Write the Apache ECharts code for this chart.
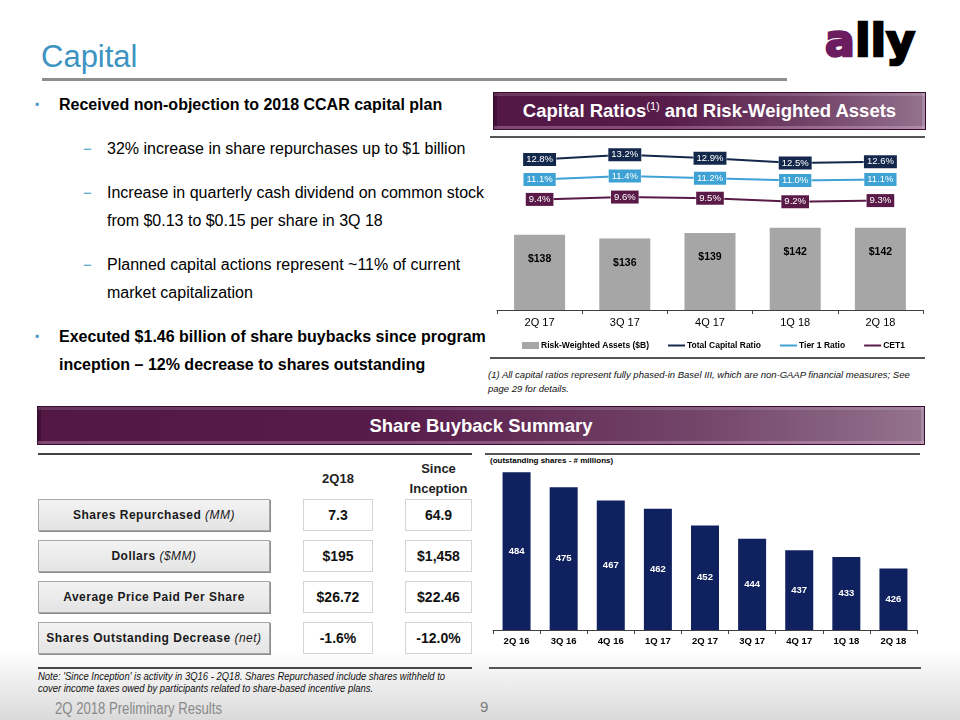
<!DOCTYPE html>
<html>
<head>
<meta charset="utf-8">
<script src="https://cdn.jsdelivr.net/npm/echarts@6/dist/echarts.min.js"></script>
<style>
html,body{margin:0;padding:0;background:#fff;}
#page{position:relative;width:960px;height:720px;overflow:hidden;font-family:"Liberation Sans",Arial,sans-serif;background:#fff;color:#000;}
.abs{position:absolute;white-space:nowrap;}
.rule{position:absolute;height:0;}
.banner{position:absolute;color:#fff;font-weight:bold;font-size:18.5px;text-align:center;box-sizing:border-box;
  background:linear-gradient(to right,#521744 0%,#581c4b 40%,#74466a 75%,#94728e 100%);
  border:1px solid #3a0c30;
  box-shadow:inset 0 3px 0 rgba(255,255,255,0.14), inset 0 -3px 0 rgba(255,200,240,0.28), inset 3px 0 0 rgba(0,0,0,0.22), inset -3px 0 0 rgba(255,255,255,0.18);}
.bul{position:absolute;color:#4b9bc8;font-size:12px;line-height:20px;}
.dash{position:absolute;color:#4b9bc8;font-size:15px;line-height:20px;}
.bold16{position:absolute;white-space:nowrap;font-size:16px;font-weight:bold;line-height:20px;}
.reg16{position:absolute;white-space:nowrap;font-size:16px;line-height:20px;}
.lbox{position:absolute;box-sizing:border-box;border:1px solid #a8a8a8;background:linear-gradient(#f3f3f3,#e4e4e4);
  box-shadow:1px 1px 0 #8a8a8a;text-align:center;font-weight:bold;font-size:12px;letter-spacing:0.5px;color:#1a1a1a;}
.lbox i{font-weight:normal;}
.vbox{position:absolute;box-sizing:border-box;border:1px solid #d4d4d4;background:#fff;text-align:center;font-weight:bold;font-size:14px;color:#111;}
.hdr{position:absolute;text-align:center;font-weight:bold;font-size:13px;color:#222;line-height:20px;}
</style>
</head>
<body>
<div id="page">
  <div class="abs" style="left:0;top:650px;width:960px;height:70px;background:linear-gradient(#ffffff,#dadada);"></div>

  <div class="abs" style="left:41px;top:41px;font-size:31px;line-height:31px;color:#3d93c1;">Capital</div>
  <div class="rule" style="left:42px;top:78px;width:745px;border-top:3px solid #8e8e8e;"></div>
  <div class="abs" style="left:825px;top:19px;font-family:'DejaVu Sans',sans-serif;font-weight:bold;font-size:44px;line-height:44px;letter-spacing:0.5px;-webkit-text-stroke:2.5px currentColor;color:#000;"><span style="color:#6b1d5f">a</span>lly</div>

  <div id="bullets"></div>

  <div class="banner" style="left:493px;top:92px;width:433px;height:38px;line-height:36px;">Capital Ratios<sup style="font-size:11px;font-weight:normal;vertical-align:7px;line-height:0;">(1)</sup> and Risk-Weighted Assets</div>
  <div class="rule" style="left:490px;top:136px;width:435px;border-top:2px solid #555;"></div>
  <div id="chartA" class="abs" style="left:480px;top:130px;width:450px;height:225px;"></div>
  <div class="rule" style="left:490px;top:357px;width:435px;border-top:2px solid #555;"></div>
  <div class="abs" style="left:488px;top:368px;font-size:9.5px;line-height:14px;font-style:italic;color:#111;">(1) All capital ratios represent fully phased-in Basel III, which are non-GAAP financial measures; See<br>page 29 for details.</div>

  <div class="banner" style="left:37px;top:406px;width:888px;height:39px;line-height:37px;">Share Buyback Summary</div>

  <div class="rule" style="left:38px;top:453px;width:434px;border-top:2px solid #444;"></div>
  <div id="table"></div>
  <div class="rule" style="left:485px;top:453px;width:435px;border-top:2px solid #555;"></div>
  <div class="abs" style="left:490px;top:455px;font-size:8px;font-weight:bold;line-height:12px;">(outstanding shares - # millions)</div>
  <div id="chartB" class="abs" style="left:480px;top:450px;width:450px;height:210px;"></div>

  <div class="rule" style="left:38px;top:667px;width:434px;border-top:2px solid #444;"></div>
  <div class="rule" style="left:489px;top:667px;width:432px;border-top:2px solid #555;"></div>
  <div class="abs" style="left:38px;top:670px;font-size:10.5px;line-height:12px;font-style:italic;color:#111;transform:scaleX(0.9);transform-origin:0 0;">Note: 'Since Inception' is activity in 3Q16 - 2Q18. Shares Repurchased include shares withheld to<br>cover income taxes owed by participants related to share-based incentive plans.</div>
  <div class="abs" style="left:55px;top:699px;font-size:16px;line-height:20px;color:#8a8a8a;transform:scaleX(0.82);transform-origin:0 0;">2Q 2018 Preliminary Results</div>
  <div class="abs" style="left:480px;top:697px;font-size:15px;line-height:20px;color:#7a7a7a;">9</div>
</div>

<script>
// ---------- data ----------
const capCategories = ['2Q 17', '3Q 17', '4Q 17', '1Q 18', '2Q 18'];
const rwaValues = [138, 136, 139, 142, 142];
const totalCapitalRatio = [12.8, 13.2, 12.9, 12.5, 12.6];
const tier1Ratio = [11.1, 11.4, 11.2, 11.0, 11.1];
const cet1Ratio = [9.4, 9.6, 9.5, 9.2, 9.3];

const shareCategories = ['2Q 16', '3Q 16', '4Q 16', '1Q 17', '2Q 17', '3Q 17', '4Q 17', '1Q 18', '2Q 18'];
const sharesOutstanding = [484, 475, 467, 462, 452, 444, 437, 433, 426];

const tableLabels = ['Shares Repurchased', 'Dollars', 'Average Price Paid Per Share', 'Shares Outstanding Decrease'];
const tableUnits = ['(MM)', '($MM)', '', '(net)'];
const table2Q18 = ['7.3', '$195', '$26.72', '-1.6%'];
const tableSinceInception = ['64.9', '$1,458', '$22.46', '-12.0%'];

const bulletLines = [
  {kind: 'bullet', text: 'Received non-objection to 2018 CCAR capital plan', y: 105},
  {kind: 'dash', text: '32% increase in share repurchases up to $1 billion', y: 149},
  {kind: 'dash', text: 'Increase in quarterly cash dividend on common stock', y: 193},
  {kind: 'cont', text: 'from $0.13 to $0.15 per share in 3Q 18', y: 221},
  {kind: 'dash', text: 'Planned capital actions represent ~11% of current', y: 265},
  {kind: 'cont', text: 'market capitalization', y: 293},
  {kind: 'bullet', text: 'Executed $1.46 billion of share buybacks since program', y: 337},
  {kind: 'boldcont', text: 'inception \u2013 12% decrease to shares outstanding', y: 365}
];

// ---------- text blocks ----------
const bEl = document.getElementById('bullets');
let html = '';
bulletLines.forEach(l => {
  const top = l.y - 10;
  if (l.kind === 'bullet') {
    html += `<div class="bul" style="left:35px;top:${top}px;">\u2022</div>`;
    html += `<div class="bold16" style="left:59px;top:${top}px;">${l.text}</div>`;
  } else if (l.kind === 'boldcont') {
    html += `<div class="bold16" style="left:59px;top:${top}px;">${l.text}</div>`;
  } else if (l.kind === 'dash') {
    html += `<div class="dash" style="left:83px;top:${top}px;">\u2212</div>`;
    html += `<div class="reg16" style="left:107px;top:${top}px;">${l.text}</div>`;
  } else {
    html += `<div class="reg16" style="left:107px;top:${top}px;">${l.text}</div>`;
  }
});
bEl.innerHTML = html;

const tEl = document.getElementById('table');
let th = '';
th += `<div class="hdr" style="left:303px;top:469px;width:70px;">2Q18</div>`;
th += `<div class="hdr" style="left:398px;top:459px;width:81px;">Since<br>Inception</div>`;
const rowTops = [499, 540, 581, 622];
tableLabels.forEach((lab, i) => {
  const top = rowTops[i];
  const unit = tableUnits[i] ? ` <i>${tableUnits[i]}</i>` : '';
  th += `<div class="lbox" style="left:38px;top:${top}px;width:232px;height:32px;line-height:30px;">${lab}${unit}</div>`;
  th += `<div class="vbox" style="left:303px;top:${top}px;width:70px;height:32px;line-height:30px;">${table2Q18[i]}</div>`;
  th += `<div class="vbox" style="left:405px;top:${top}px;width:67px;height:32px;line-height:30px;">${tableSinceInception[i]}</div>`;
});
tEl.innerHTML = th;

// ---------- chart A: capital ratios & RWA ----------
const FONT = '"Liberation Sans", Arial, sans-serif';
const pct = v => Number(v).toFixed(1) + '%';
const lineIcon = 'path://M0,0M19,7M0,2.4L19,2.4L19,4.6L0,4.6Z';
function ratioSeries(name, data, color) {
  return {
    name, type: 'line', yAxisIndex: 1, data, color,
    symbol: 'circle', symbolSize: 2,
    lineStyle: {width: 2, color}, itemStyle: {color},
    z: 3,
    label: {
      show: true, position: 'inside', formatter: p => pct(p.value),
      color: '#fff', backgroundColor: color, fontSize: 9.5, fontFamily: FONT,
      padding: [2, 3, 1, 3], borderColor: 'rgba(255,255,255,0.55)', borderWidth: 0.6
    }
  };
}
const chartA = echarts.init(document.getElementById('chartA'));
chartA.setOption({
  animation: false,
  grid: {left: 17, top: 10, width: 426, height: 170},
  legend: {
    left: 37, top: 206, itemWidth: 17, itemHeight: 7, itemGap: 19,
    textStyle: {fontSize: 8.5, fontWeight: 'bold', color: '#000', fontFamily: FONT, padding: [0, 0, 0, -3]},
    data: [
      {name: 'Risk-Weighted Assets ($B)', icon: 'rect'},
      {name: 'Total Capital Ratio', icon: lineIcon},
      {name: 'Tier 1 Ratio', icon: lineIcon},
      {name: 'CET1', icon: lineIcon}
    ]
  },
  xAxis: {
    type: 'category', data: capCategories,
    axisLine: {lineStyle: {color: '#404040', width: 1}},
    axisTick: {show: true, length: 4, lineStyle: {color: '#404040'}},
    axisLabel: {fontSize: 11, color: '#000', margin: 7, fontFamily: FONT}
  },
  yAxis: [
    {type: 'value', min: 96, max: 191, show: false, splitLine: {show: false}},
    {type: 'value', min: 0, max: 14.45, show: false, splitLine: {show: false}}
  ],
  series: [
    {
      name: 'Risk-Weighted Assets ($B)', type: 'bar', yAxisIndex: 0, data: rwaValues,
      barWidth: 51, itemStyle: {color: '#a6a6a6'}, color: '#a6a6a6',
      label: {show: true, position: 'insideTop', distance: 19, formatter: p => '$' + p.value,
        color: '#000', fontWeight: 'bold', fontSize: 10.5, fontFamily: FONT}
    },
    ratioSeries('Total Capital Ratio', totalCapitalRatio, '#14284c'),
    ratioSeries('Tier 1 Ratio', tier1Ratio, '#3ea2d5'),
    ratioSeries('CET1', cet1Ratio, '#5a1a48')
  ]
});

// ---------- chart B: shares outstanding ----------
const chartB = echarts.init(document.getElementById('chartB'));
chartB.setOption({
  animation: false,
  grid: {left: 13, top: 14, width: 424, height: 166},
  xAxis: {
    type: 'category', data: shareCategories,
    axisLine: {lineStyle: {color: '#404040', width: 1}},
    axisTick: {show: true, length: 4, lineStyle: {color: '#404040'}},
    axisLabel: {interval: 0, fontSize: 9.5, fontWeight: 'bold', color: '#000', margin: 6, fontFamily: FONT}
  },
  yAxis: {type: 'value', min: 389, max: 489, show: false, splitLine: {show: false}},
  series: [{
    type: 'bar', data: sharesOutstanding, barWidth: 28,
    itemStyle: {color: '#10215f'},
    label: {show: true, position: 'inside', color: '#fff', fontWeight: 'bold', fontSize: 9.5, fontFamily: FONT}
  }]
});
</script>
</body>
</html>
